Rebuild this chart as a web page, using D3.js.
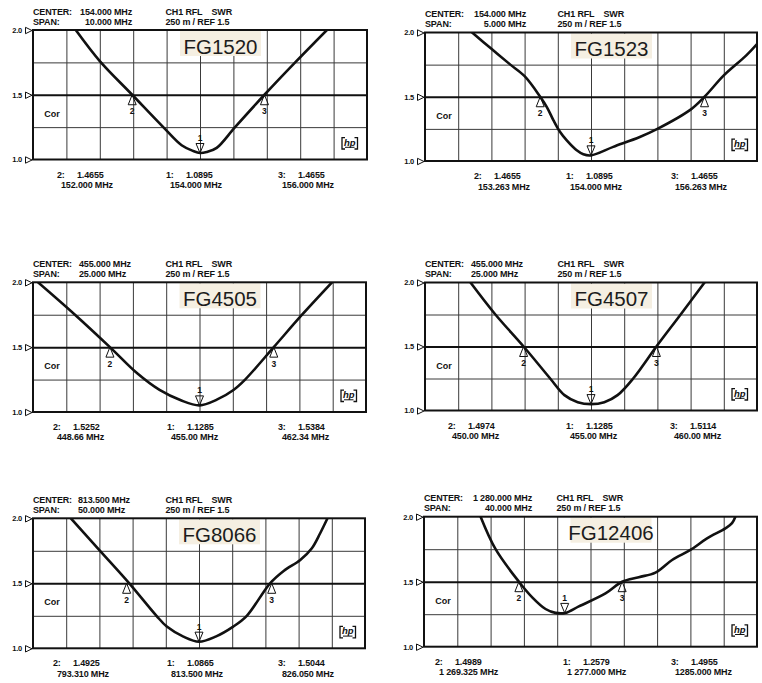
<!DOCTYPE html>
<html><head><meta charset="utf-8">
<script src="https://cdn.jsdelivr.net/npm/d3@7"></script>
<style>
html,body{margin:0;padding:0;background:#fff;}
svg{display:block;}
text{font-family:"Liberation Sans",Arial,Helvetica,sans-serif;fill:#111;}
</style></head><body>
<svg id="chart" width="762" height="683"></svg>
<script>
// ---------------- DATA ----------------
const panelNames = ["FG1520", "FG1523", "FG4505", "FG4507", "FG8066", "FG12406"];
const centers = [154, 154, 455, 455, 813.5, 1280];       // MHz
const spans = [10, 5, 25, 25, 50, 40];                   // MHz
const centerLabels = ["154.000 MHz", "154.000 MHz", "455.000 MHz", "455.000 MHz", "813.500 MHz", "1 280.000 MHz"];
const spanLabels = ["10.000 MHz", "5.000 MHz", "25.000 MHz", "25.000 MHz", "50.000 MHz", "40.000 MHz"];
const channelLabel = "CH1 RFL";
const formatLabel = "SWR";
const scaleLabel = "250 m / REF 1.5";
const corLabel = "Cor";
const yTicks = [1.0, 1.5, 2.0];
const yTickLabels = ["1.0", "1.5", "2.0"];
const hGrid = [1.25, 1.5, 1.75];

// SWR traces: [MHz, SWR]
const curveFG1520 = [[150.28,2.0],[151.0,1.76],[151.97,1.5],[152.9,1.25],[153.45,1.11],[153.8,1.065],[154.0,1.05],[154.2,1.058],[154.5,1.09],[155.05,1.25],[155.93,1.5],[156.85,1.75],[157.8,2.0]];
const curveFG1523 = [[152.21,2.0],[152.5,1.873],[152.785,1.75],[153.0,1.66],[153.235,1.5],[153.335,1.42],[153.435,1.316],[153.535,1.225],[153.635,1.16],[153.785,1.083],[153.885,1.052],[154.0,1.044],[154.335,1.11],[154.735,1.187],[155.0,1.25],[155.5,1.40],[155.71,1.5],[156.0,1.666],[156.335,1.82],[156.5,1.91]];
const curveFG4505 = [[442.875,2.0],[445.65,1.75],[448.275,1.5],[450.3,1.3],[452.0,1.17],[453.6,1.09],[455.0,1.051],[456.3,1.095],[457.55,1.17],[458.425,1.25],[460.575,1.5],[462.7,1.75],[464.95,2.0]];
const curveFG4507 = [[445.925,2.0],[447.8,1.75],[449.925,1.5],[451.925,1.25],[453.0,1.12],[454.0,1.065],[455.0,1.05],[456.0,1.065],[457.0,1.12],[458.175,1.25],[459.925,1.5],[461.75,1.75],[463.55,2.0]];
const curveFG8066 = [[794.2,2.0],[798.6,1.75],[803.0,1.5],[807.1,1.25],[808.65,1.167],[811.15,1.09],[813.5,1.051],[816.0,1.09],[818.65,1.167],[820.7,1.25],[824.2,1.5],[826.25,1.595],[828.75,1.68],[830.5,1.77],[831.75,1.885],[832.85,2.0]];
const curveFG12406 = [[1266.8,2.0],[1268.6,1.75],[1271.4,1.5],[1273.0,1.38],[1274.6,1.29],[1275.8,1.26],[1277.0,1.26],[1278.6,1.31],[1281.8,1.41],[1283.8,1.5],[1285.8,1.535],[1287.8,1.57],[1289.8,1.667],[1292.0,1.744],[1294.0,1.833],[1296.2,1.91],[1297.0,1.95],[1297.4,2.0]];
const curves = [curveFG1520, curveFG1523, curveFG4505, curveFG4507, curveFG8066, curveFG12406];

// markers (left to right: 2, 1, 3)
const markerIds = [2, 1, 3];
const markerFreqs = [
  [151.97, 154.0, 155.93],
  [153.235, 154.0, 155.71],
  [448.275, 455.0, 460.575],
  [449.925, 455.0, 459.925],
  [802.6, 813.5, 824.45],
  [1271.4, 1276.9, 1283.8]
];
const markerSWR = [
  [1.5, 1.05, 1.5],
  [1.5, 1.044, 1.5],
  [1.5, 1.051, 1.5],
  [1.5, 1.05, 1.5],
  [1.5, 1.051, 1.5],
  [1.5, 1.26, 1.5]
];
const readoutVals = [
  ["1.4655", "1.0895", "1.4655"],
  ["1.4655", "1.0895", "1.4655"],
  ["1.5252", "1.1285", "1.5384"],
  ["1.4974", "1.1285", "1.5114"],
  ["1.4925", "1.0865", "1.5044"],
  ["1.4989", "1.2579", "1.4955"]
];
const readoutFreqs = [
  ["152.000 MHz", "154.000 MHz", "156.000 MHz"],
  ["153.263 MHz", "154.000 MHz", "156.263 MHz"],
  ["448.66 MHz", "455.00 MHz", "462.34 MHz"],
  ["450.00 MHz", "455.00 MHz", "460.00 MHz"],
  ["793.310 MHz", "813.500 MHz", "826.050 MHz"],
  ["1 269.325 MHz", "1 277.000 MHz", "1285.000 MHz"]
];

// ---------------- LAYOUT ----------------
const layout = [
  {left:33,  top:30,  w:334, h:129.5, valX:99,  valAnchor:"end",   readX:[24,133,245]},
  {left:425, top:32.5,w:332, h:128.5, valX:101, valAnchor:"end",   readX:[49,141,246]},
  {left:33,  top:282.3,w:333,h:129.7, valX:46,  valAnchor:"start", readX:[20,134,245]},
  {left:425, top:282.5,w:332,h:128,   valX:46,  valAnchor:"start", readX:[23,141,245]},
  {left:33,  top:518.3,w:332,h:130,   valX:45,  valAnchor:"start", readX:[20,134,245]},
  {left:424, top:516.7,w:333,h:130,   valX:108, valAnchor:"end",   readX:[11,139,247]}
];

const svg = d3.select("#chart");
const defs = svg.append("defs");
const INK = "#111";
const GRID = "#3a3a3a";

panelNames.forEach((name, i) => {
  const L = layout[i];
  const c = centers[i], s = spans[i];
  const x = d3.scaleLinear().domain([c - s / 2, c + s / 2]).range([0, L.w]);
  const y = d3.scaleLinear().domain([1, 2]).range([L.h, 0]);
  const g = svg.append("g").attr("transform", `translate(${L.left},${L.top})`);

  // vertical grid (10 divisions)
  const vt = d3.range(1, 10).map(k => c - s / 2 + k * s / 10);
  g.append("g").attr("transform", `translate(0,${L.h})`)
    .call(d3.axisBottom(x).tickValues(vt).tickSize(-L.h).tickFormat(""))
    .call(a => a.select(".domain").remove())
    .call(a => a.selectAll("text").remove())
    .selectAll("line").attr("stroke", GRID).attr("stroke-width", 1);

  // horizontal grid
  g.append("g")
    .call(d3.axisLeft(y).tickValues(hGrid).tickSize(-L.w).tickFormat(""))
    .call(a => a.select(".domain").remove())
    .call(a => a.selectAll("text").remove())
    .selectAll("line")
    .attr("stroke", d => d === 1.5 ? INK : GRID)
    .attr("stroke-width", d => d === 1.5 ? 2 : 1);

  // name label box
  const cx = x(c) + 20.5;
  g.append("rect").attr("x", cx - 40.5).attr("y", 1).attr("width", 81).attr("height", 25)
    .attr("fill", "#f5efe2");
  g.append("text").attr("x", cx).attr("y", 23.5).attr("text-anchor", "middle")
    .attr("font-size", 20.5).style("fill", "#1c1c1c").text(name);

  // border
  g.append("rect").attr("x", 0).attr("y", 0).attr("width", L.w).attr("height", L.h)
    .attr("fill", "none").attr("stroke", INK).attr("stroke-width", 2);

  // clip + curve
  const cid = "clip" + i;
  defs.append("clipPath").attr("id", cid).append("rect")
    .attr("x", 0).attr("y", 0).attr("width", L.w).attr("height", L.h);
  const line = d3.line().x(d => x(d[0])).y(d => y(d[1])).curve(d3.curveCatmullRom.alpha(0.5));
  g.append("path").datum(curves[i]).attr("clip-path", `url(#${cid})`)
    .attr("d", line).attr("fill", "none").attr("stroke", INK)
    .attr("stroke-width", 2.6).attr("stroke-linejoin", "round").attr("stroke-linecap", "round");

  // markers
  markerIds.forEach((m, j) => {
    const mx = x(markerFreqs[i][j]), my = y(markerSWR[i][j]);
    const mg = g.append("g").attr("transform", `translate(${mx},${my})`);
    if (m === 1) {
      mg.append("path").attr("d", "M0,0L-4,-9.5L4,-9.5Z").attr("fill", "none")
        .attr("stroke", INK).attr("stroke-width", 1);
      mg.append("text").attr("x", 0).attr("y", -12).attr("text-anchor", "middle")
        .attr("font-size", 8.5).attr("font-weight", "bold").text(m);
    } else {
      mg.append("path").attr("d", "M0,0L-4,10L4,10Z").attr("fill", "none")
        .attr("stroke", INK).attr("stroke-width", 1);
      mg.append("text").attr("x", 0).attr("y", 19.5).attr("text-anchor", "middle")
        .attr("font-size", 8.5).attr("font-weight", "bold").text(m);
    }
  });

  // y axis labels with pointer triangles
  const ya = g.append("g")
    .call(d3.axisLeft(y).tickValues(yTicks).tickSize(0).tickPadding(11)
      .tickFormat(d => yTickLabels[yTicks.indexOf(d)]));
  ya.select(".domain").remove();
  ya.attr("font-family", null).attr("font-size", null);
  ya.selectAll("text").attr("font-size", 7.5).attr("font-weight", "bold").attr("letter-spacing", "-0.2px");
  ya.selectAll(".tick").append("path").attr("d", "M-7.5,-3.2L-1,0L-7.5,3.2Z")
    .attr("fill", "#fff").attr("stroke", INK).attr("stroke-width", 1);

  // header
  const hdr = g.append("g").attr("font-size", 9).attr("font-weight", "bold").attr("letter-spacing", "-0.15px");
  hdr.append("text").attr("x", 0).attr("y", -15.5).text("CENTER:");
  hdr.append("text").attr("x", 0).attr("y", -5.5).text("SPAN:");
  hdr.append("text").attr("x", L.valX).attr("y", -15.5).attr("text-anchor", L.valAnchor).text(centerLabels[i]);
  hdr.append("text").attr("x", L.valX).attr("y", -5.5).attr("text-anchor", L.valAnchor).text(spanLabels[i]);
  hdr.append("text").attr("x", 132.5).attr("y", -15.5).text(channelLabel);
  hdr.append("text").attr("x", 199).attr("y", -15.5).attr("text-anchor", "end").text(formatLabel);
  hdr.append("text").attr("x", 132.5).attr("y", -5.5).text(scaleLabel);

  // Cor
  g.append("text").attr("x", 11.3).attr("y", y(1.5) + 22).attr("font-size", 9)
    .attr("font-weight", "bold").text(corLabel);

  // hp logo
  const hp = g.append("g").attr("transform", `translate(${L.w - 26},${L.h - 22.5})`);
  hp.append("path").attr("d", "M4,0.6H1V12H4M13.5,0.6H16.5V12H13.5")
    .attr("fill", "none").attr("stroke", INK).attr("stroke-width", 1.3);
  hp.append("text").attr("x", 8.8).attr("y", 8.6).attr("text-anchor", "middle")
    .attr("font-size", 9.5).attr("font-style", "italic").attr("font-weight", "bold").text("hp");
  hp.append("line").attr("x1", 4).attr("x2", 13.5).attr("y1", 10.3).attr("y2", 10.3)
    .attr("stroke", INK).attr("stroke-width", 1);

  // marker readouts
  const rd = g.append("g").attr("font-size", 9).attr("font-weight", "bold").attr("letter-spacing", "-0.15px");
  markerIds.forEach((m, j) => {
    const x0 = L.readX[j];
    rd.append("text").attr("x", x0).attr("y", L.h + 18).text(m + ":");
    rd.append("text").attr("x", x0 + 20).attr("y", L.h + 18).text(readoutVals[i][j]);
    rd.append("text").attr("x", x0 + 4).attr("y", L.h + 28.5).text(readoutFreqs[i][j]);
  });
});
</script>
</body></html>
